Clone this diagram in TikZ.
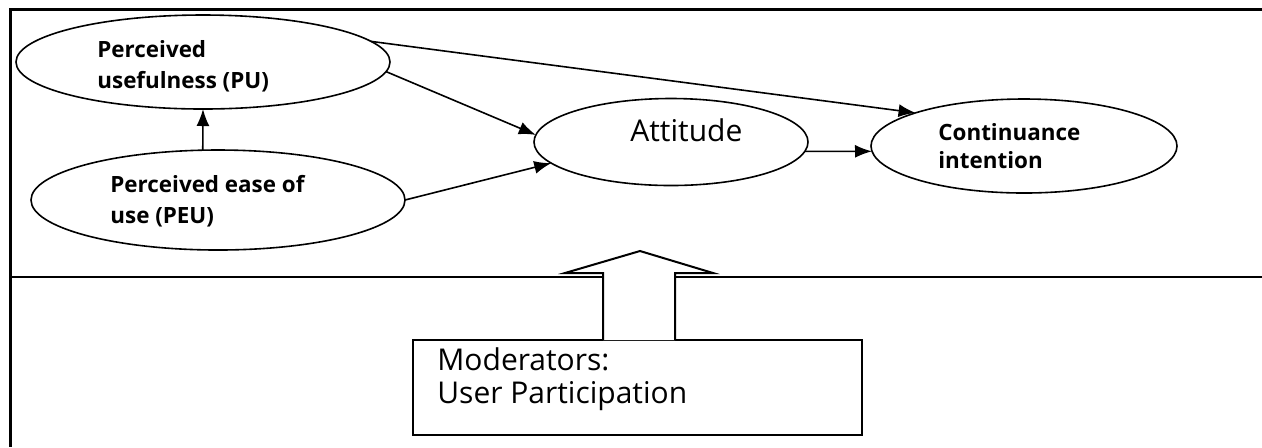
\documentclass[tikz,border=0pt]{standalone}
\usepackage{fontspec}
\setmainfont{Open Sans}
\usetikzlibrary{shapes.geometric, arrows.meta, positioning}
\tikzset{
  cons/.style={ellipse, draw, line width=0.8pt, inner sep=0pt, outer sep=0pt},
  lbl/.style={anchor=base west, inner sep=0pt, font=\fontsize{11.2}{13}\selectfont\bfseries},
  txt/.style={anchor=base west, inner sep=0pt, font=\fontsize{15}{18}\selectfont},
  link/.style={line width=0.8pt, -{Latex[length=8.5pt,width=6.5pt]}}}

\begin{document}
\begin{tikzpicture}[x=0.5pt, y=-0.5pt]
\useasboundingbox (0,0) rectangle (1262,447);
% frame
\draw[line width=1.5pt] (1262,9) -- (10,9) -- (10,447);
\draw[line width=1pt] (10,277) -- (1262,277);

% constructs
\node[cons, minimum width=187pt, minimum height=47pt] (pu) at (203,62) {};
\node[cons, minimum width=187pt, minimum height=50pt] (peu) at (218,200) {};
\node[cons, minimum width=137pt, minimum height=43.5pt] (att) at (671,142) {};
\node[cons, minimum width=153pt, minimum height=47pt] (cont) at (1024,146) {};

\node[lbl] (pu1) at (97,57) {Perceived};
\node[lbl] (pu2) at (97,88) {usefulness (PU)};
\node[lbl] (peu1) at (110,192) {Perceived ease of};
\node[lbl] (peu2) at (110,223) {use (PEU)};
\node[txt] (att1) at (630,141) {Attitude};
\node[lbl] (cont1) at (938,140) {Continuance};
\node[lbl] (cont2) at (938,168) {intention};

% paths
\draw[link] (peu.107) -- (pu.south);
\draw[link] (pu.7.5) -- (cont.163);
\draw[link] (pu.-3) -- (att.177);
\draw[link] (peu.east) -- (att.190);
\draw[link] (att.-4) -- (cont.182);

% moderator
\node[draw, line width=1pt, minimum width=224.5pt, minimum height=47.5pt, inner sep=0pt] (mod) at (637.5,387.5) {};
\node[txt] (mod1) at (437,370) {Moderators:};
\node[txt] (mod2) at (437,403) {User Participation};
\draw[line width=1pt, fill=white] (603,340) -- (603,273) -- (565,273) -- (640,251)
  -- (713,273) -- (675,273) -- (675,340);
\end{tikzpicture}
\end{document}
